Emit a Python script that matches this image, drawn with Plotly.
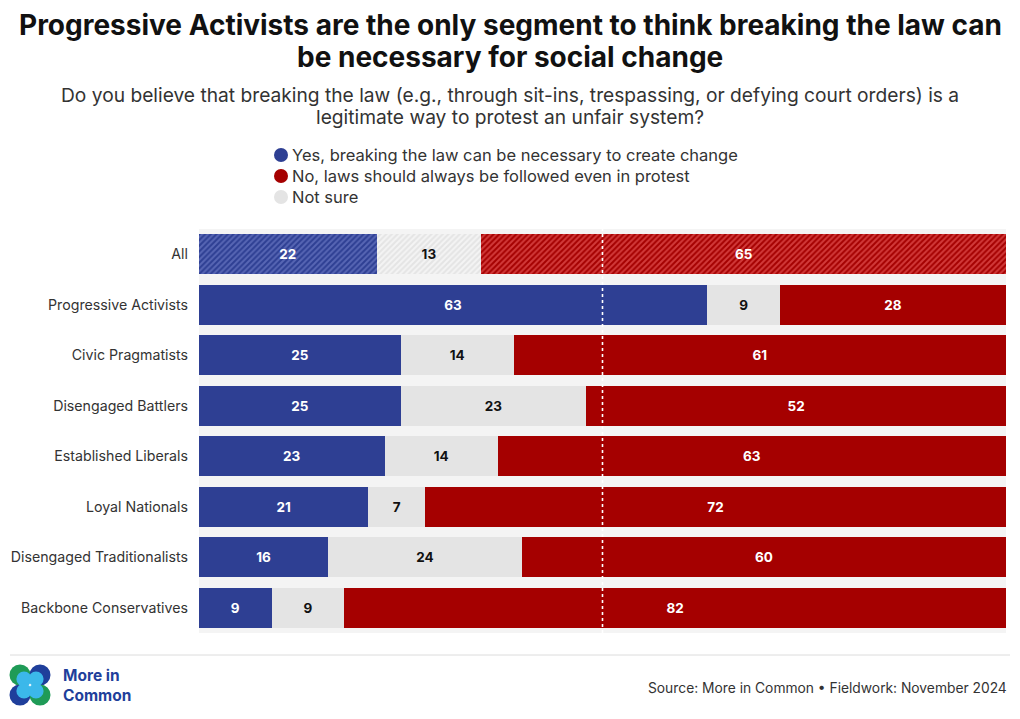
import plotly.graph_objects as go

categories = ["All", "Progressive Activists", "Civic Pragmatists", "Disengaged Battlers",
              "Established Liberals", "Loyal Nationals", "Disengaged Traditionalists",
              "Backbone Conservatives"]
yes_vals = [22, 63, 25, 25, 23, 21, 16, 9]
notsure_vals = [13, 9, 14, 23, 14, 7, 24, 9]
no_vals = [65, 28, 61, 52, 63, 72, 60, 82]

series_names = ["Yes, breaking the law can be necessary to create change",
                "No, laws should always be followed even in protest",
                "Not sure"]
legend_order = [0, 1, 2]

BLUE = "#2e3f93"
RED = "#a50000"
GREY = "#e4e4e4"
BLUE_L = "#5766b4"
RED_L = "#d23a3a"
GREY_L = "#f4f4f4"

FONT = "Inter"
OFF = 8  # page body margin
W, H = 1020, 719
L, T = 199 - OFF, 229 - OFF
PW, PH = 807, 404
R, B = W - L - PW, H - T - PH


def px_x(px):
    return (px - OFF - L) / PW


def px_y(py):
    return (T + PH - (py - OFF)) / PH


fig = go.Figure()


def add_bar(vals, color, light, name, tcolor):
    shapes = ["/" if c == "All" else "" for c in categories]
    fig.add_trace(go.Bar(
        y=categories, x=vals, orientation="h", name=name, showlegend=False,
        marker=dict(color=color, line=dict(width=0),
                    pattern=dict(shape=shapes, fgcolor=color, bgcolor=light,
                                 size=4, solidity=0.5, fillmode="replace")),
        text=[str(v) for v in vals], textposition="inside", insidetextanchor="middle",
        textangle=0, constraintext="none",
        textfont=dict(family=FONT, size=13.5, color=tcolor, weight="bold"),
        hoverinfo="skip",
    ))


add_bar(yes_vals, BLUE, BLUE_L, series_names[0], "white")
add_bar(notsure_vals, GREY, GREY_L, series_names[2], "#111111")
add_bar(no_vals, RED, RED_L, series_names[1], "white")

shapes = [
    dict(type="line", xref="x", yref="paper", x0=50, x1=50, y0=0, y1=1,
         line=dict(color="white", width=1.6, dash="dot"), layer="above"),
    dict(type="line", xref="paper", yref="paper", x0=px_x(10), x1=px_x(1010),
         y0=px_y(655), y1=px_y(655), line=dict(color="#dcdcdc", width=1)),
]


def circle(cx, cy, r, color):
    return dict(type="circle", xref="paper", yref="paper",
                x0=px_x(cx - r), x1=px_x(cx + r), y0=px_y(cy + r), y1=px_y(cy - r),
                fillcolor=color, line=dict(width=0), layer="above")


# legend (manual, circle markers)
legend_colors = [BLUE, RED, GREY]
annotations = []
for i, idx in enumerate(legend_order):
    yc = 155 + 21 * i
    shapes.append(circle(281, yc, 7, legend_colors[idx]))
    annotations.append(dict(text=series_names[idx], xref="paper", yref="paper",
                            x=px_x(290), y=px_y(yc), xanchor="left", yanchor="middle",
                            showarrow=False, font=dict(family=FONT, size=16.5, color="#333333")))

# logo
GREEN_LOGO, NAVY_LOGO, CYAN_LOGO = "#1f9b57", "#1f3f9b", "#3bb8ea"
shapes += [
    circle(20, 675, 10.5, GREEN_LOGO),
    circle(40, 675, 10.5, NAVY_LOGO),
    circle(20, 695, 10.5, NAVY_LOGO),
    circle(40, 695, 10.5, GREEN_LOGO),
    circle(24, 679, 7.6, CYAN_LOGO),
    circle(36, 679, 7.6, CYAN_LOGO),
    circle(24, 691, 7.6, CYAN_LOGO),
    circle(36, 691, 7.6, CYAN_LOGO),
]

title_lines = ["Progressive Activists are the only segment to think breaking the law can",
               "be necessary for social change"]
subtitle_lines = ["Do you believe that breaking the law (e.g., through sit-ins, trespassing, or defying court orders) is a",
                  "legitimate way to protest an unfair system?"]

for line, yc in zip(title_lines, [25, 57]):
    annotations.append(dict(text=line, xref="paper", yref="paper", x=px_x(510), y=px_y(yc),
                            xanchor="center", yanchor="middle", showarrow=False,
                            font=dict(family=FONT, size=28, color="#111111", weight="bold")))
for line, yc in zip(subtitle_lines, [95, 117]):
    annotations.append(dict(text=line, xref="paper", yref="paper", x=px_x(510), y=px_y(yc),
                            xanchor="center", yanchor="middle", showarrow=False,
                            font=dict(family=FONT, size=19.2, color="#333333")))

annotations.append(dict(text="More in<br>Common", xref="paper", yref="paper", x=px_x(61), y=px_y(685),
                        xanchor="left", yanchor="middle", align="left", showarrow=False,
                        font=dict(family=FONT, size=15.5, color=NAVY_LOGO, weight="bold")))

annotations.append(dict(text="Source: More in Common • Fieldwork: November 2024", xref="paper", yref="paper",
                        x=px_x(1009), y=px_y(688), xanchor="right", yanchor="middle", showarrow=False,
                        font=dict(family=FONT, size=13.8, color="#333333")))

fig.update_layout(
    width=W, height=H,
    margin=dict(l=L, r=R, t=T, b=B, pad=0, autoexpand=False),
    barmode="stack", bargap=0.2,
    paper_bgcolor="white", plot_bgcolor="#f4f4f4",
    font=dict(family=FONT, color="#333333"),
    showlegend=False,
    xaxis=dict(range=[0, 100], visible=False, fixedrange=True, automargin=False),
    yaxis=dict(autorange="reversed", showgrid=False, zeroline=False, ticks="", automargin=False,
               tickfont=dict(family=FONT, size=14.2, color="#333333"), ticklabelstandoff=10),
    shapes=shapes, annotations=annotations,
)

fig.write_html("out.html")
